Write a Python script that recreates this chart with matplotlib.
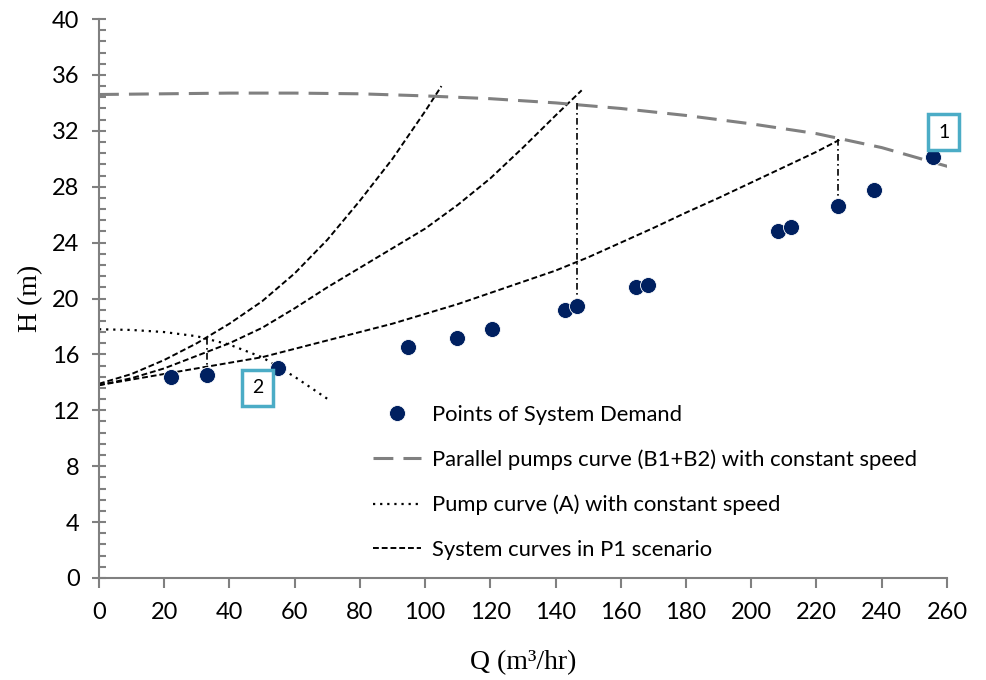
import matplotlib
matplotlib.use("Agg")
import matplotlib.pyplot as plt
from matplotlib.ticker import MultipleLocator

# ---- data ----
demand_q = [22.1, 33.1, 54.9, 94.7, 109.7, 120.5, 142.9, 146.5, 164.6, 168.3,
            208.2, 212.1, 226.5, 237.6, 255.7]
demand_h = [14.4, 14.5, 15.0, 16.5, 17.2, 17.8, 19.2, 19.5, 20.8, 21.0,
            24.8, 25.1, 26.6, 27.8, 30.1]

parallel_q = [0, 20, 40, 60, 80, 100, 120, 140, 160, 180, 200, 220, 240, 261]
parallel_h = [34.6, 34.65, 34.7, 34.7, 34.65, 34.5, 34.3, 34.0, 33.6, 33.1,
              32.5, 31.8, 30.8, 29.4]

pumpA_q = [0, 10, 20, 30, 40, 50, 60, 70.8]
pumpA_h = [17.8, 17.75, 17.6, 17.3, 16.7, 15.8, 14.4, 12.7]

sys1_q = [0, 10, 20, 30, 40, 50, 60, 70, 80, 90, 100, 105]
sys1_h = [13.9, 14.6, 15.6, 16.8, 18.2, 19.8, 21.8, 24.2, 27.0, 30.0, 33.4, 35.2]

sys2_q = [0, 10, 20, 30, 40, 50, 60, 70, 80, 90, 100, 110, 120, 130, 140, 148]
sys2_h = [13.8, 14.3, 15.0, 15.9, 16.8, 17.9, 19.3, 20.8, 22.2, 23.6, 25.0,
          26.7, 28.6, 30.8, 33.1, 34.9]

sys3_q = [0, 10, 20, 30, 40, 50, 60, 70, 80, 90, 100, 110, 120, 130, 140, 150,
          160, 170, 180, 190, 200, 210, 220, 227]
sys3_h = [13.8, 14.2, 14.6, 15.0, 15.4, 15.8, 16.4, 17.0, 17.6, 18.2, 18.9,
          19.6, 20.4, 21.2, 22.0, 22.95, 24.0, 25.05, 26.15, 27.2, 28.3, 29.4,
          30.5, 31.35]

# vertical operating-point connectors: (Q, H top, H bottom)
conn_q = [33.1, 146.5, 226.5]
conn_top = [17.2, 34.0, 31.4]
conn_bot = [14.5, 19.5, 26.6]

# callout labels
callout_text = ["1", "2"]
callout_q = [259.0, 48.7]
callout_h = [31.9, 13.6]

legend_labels = ["Points of System Demand",
                 "Parallel pumps curve (B1+B2) with constant speed",
                 "Pump curve (A) with constant speed",
                 "System curves in P1 scenario"]

x_ticks = list(range(0, 261, 20))
y_ticks = list(range(0, 41, 4))

# ---- figure ----
plt.rcParams['font.family'] = ['Lato', 'DejaVu Sans']
fig = plt.figure(figsize=(9.86, 6.8), dpi=100)
ax = fig.add_axes([0.1004, 0.15, 0.86, 0.822])

grey = '#808080'
navy = '#002060'

l_sys, = ax.plot(sys1_q, sys1_h, color='black', lw=1.4, dashes=(3, 1.5))
ax.plot(sys2_q, sys2_h, color='black', lw=1.4, dashes=(3, 1.5))
ax.plot(sys3_q, sys3_h, color='black', lw=1.4, dashes=(3, 1.5))
l_pumpA, = ax.plot(pumpA_q, pumpA_h, color='black', lw=1.6, dashes=(1, 2.2))
l_par, = ax.plot(parallel_q, parallel_h, color=grey, lw=2.2, dashes=(6.5, 3.3))

for q, t, b in zip(conn_q, conn_top, conn_bot):
    ax.plot([q, q], [t, b], color='black', lw=1.2, dashes=(4, 2, 1, 2))

l_pts, = ax.plot(demand_q, demand_h, 'o', color=navy, ms=11.5, mec='white',
                 mew=0.6, zorder=5)

for t, q, h in zip(callout_text, callout_q, callout_h):
    ax.text(q, h, t, ha='center', va='center', fontsize=14, color='black',
            bbox=dict(boxstyle='square,pad=0.5', fc='white', ec='#4BACC6', lw=2.5),
            zorder=6, clip_on=False)

ax.set_xlim(0, 260)
ax.set_ylim(0, 40)
ax.set_xticks(x_ticks)
ax.set_yticks(y_ticks)
ax.yaxis.set_minor_locator(MultipleLocator(0.8))
for s in ['top', 'right']:
    ax.spines[s].set_visible(False)
for s in ['left', 'bottom']:
    ax.spines[s].set_color(grey)
    ax.spines[s].set_linewidth(1.5)
ax.tick_params(axis='x', which='major', direction='out', length=7, width=1.5,
               color=grey, labelsize=17, pad=10)
ax.tick_params(axis='y', which='major', direction='inout', length=10, width=1.5,
               color=grey, labelsize=17, pad=9)
ax.tick_params(axis='y', which='minor', direction='in', length=5, width=1.5,
               color=grey)

ax.set_xlabel('Q (m³/hr)', family=['Liberation Serif'], fontsize=20, labelpad=20)
ax.set_ylabel('H (m)', family=['Liberation Serif'], fontsize=20, labelpad=6)

ax.legend([l_pts, l_par, l_pumpA, l_sys], legend_labels, frameon=False,
          fontsize=15.8, loc='upper left', bbox_to_anchor=(0.30, 0.345),
          handlelength=2.2, handletextpad=0.5, labelspacing=1.12)

fig.savefig('out.png', dpi=100)
